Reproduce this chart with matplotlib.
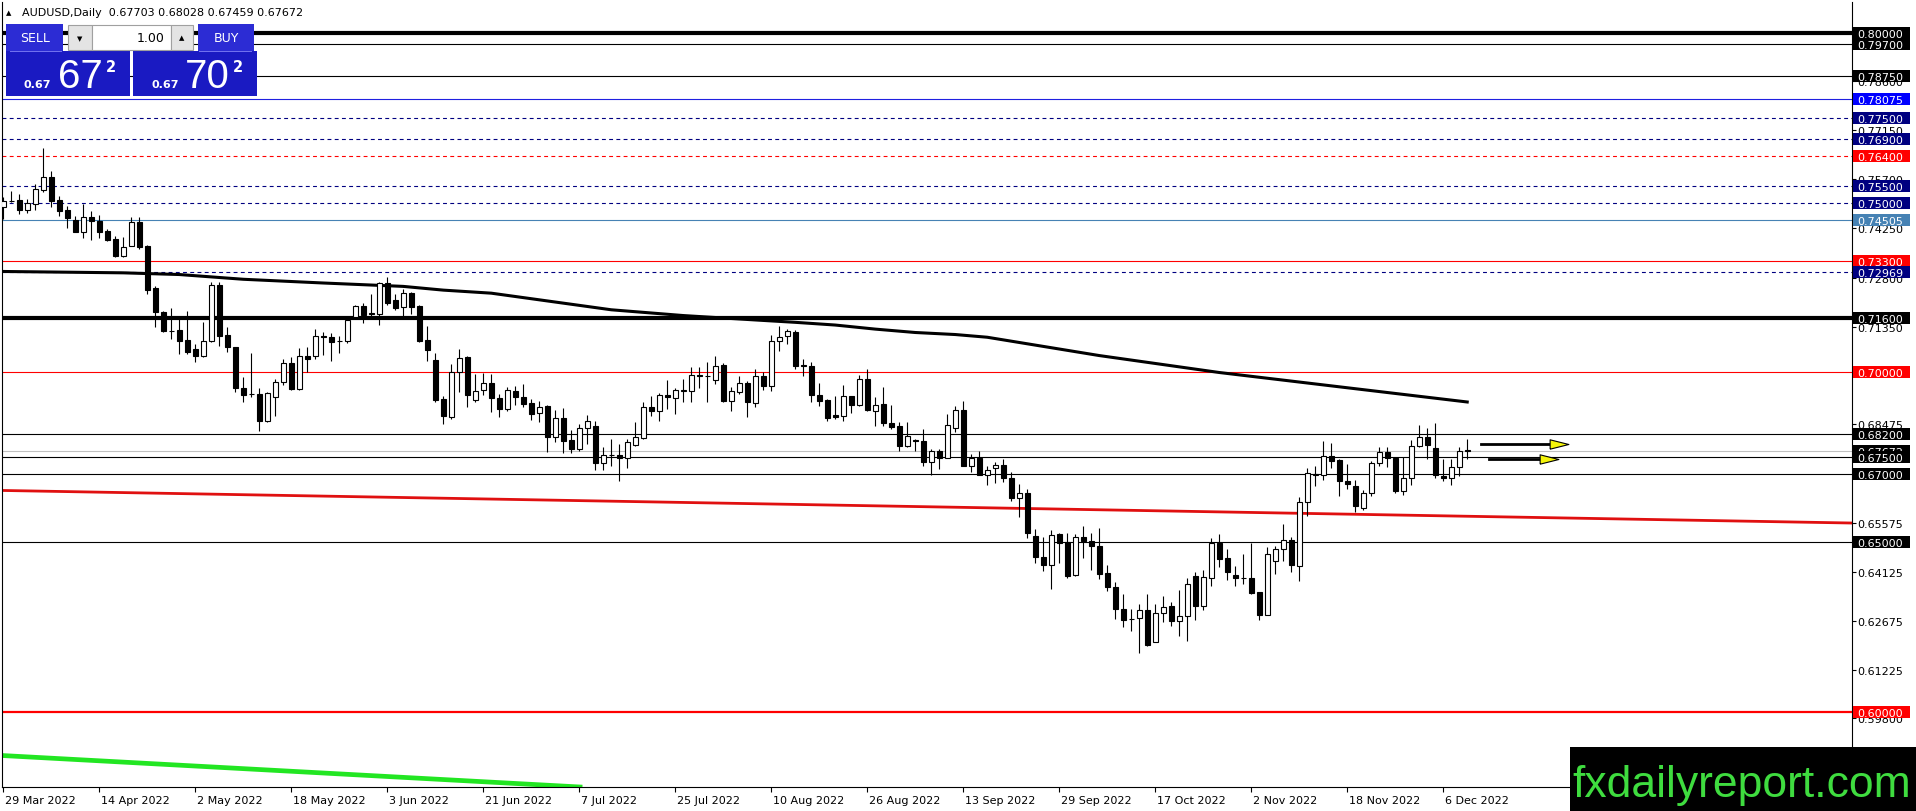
import numpy as np
import matplotlib.pyplot as plt
from matplotlib.patches import Rectangle
from matplotlib.transforms import ScaledTranslation

# daily candles, first bar = 29 Mar 2022
opens = [0.7487, 0.7507, 0.7509, 0.7480, 0.7497, 0.7539, 0.7576, 0.7509, 0.7479, 0.7450,
         0.7414, 0.7458, 0.7448, 0.7418, 0.7394, 0.7345, 0.7372, 0.7445, 0.7372, 0.7249,
         0.7178, 0.7123, 0.7124, 0.7096, 0.7070, 0.7048, 0.7094, 0.7258, 0.7111, 0.7075,
         0.6954, 0.6937, 0.6937, 0.6856, 0.6927, 0.6971, 0.7027, 0.6951, 0.7048, 0.7050,
         0.7109, 0.7104, 0.7094, 0.7094, 0.7163, 0.7195, 0.7175, 0.7174, 0.7263, 0.7214,
         0.7192, 0.7234, 0.7197, 0.7096, 0.7037, 0.6922, 0.6868, 0.7000, 0.7045, 0.6920,
         0.6947, 0.6969, 0.6925, 0.6892, 0.6945, 0.6927, 0.6909, 0.6880, 0.6902, 0.6811,
         0.6865, 0.6801, 0.6775, 0.6835, 0.6841, 0.6732, 0.6757, 0.6758, 0.6748, 0.6787,
         0.6807, 0.6897, 0.6885, 0.6934, 0.6924, 0.6946, 0.6944, 0.6992, 0.6989, 0.6979,
         0.7022, 0.6917, 0.6943, 0.6968, 0.6909, 0.6989, 0.6961, 0.7092, 0.7107, 0.7120,
         0.7022, 0.7018, 0.6934, 0.6919, 0.6875, 0.6873, 0.6930, 0.6905, 0.6981, 0.6887,
         0.6907, 0.6850, 0.6841, 0.6784, 0.6801, 0.6797, 0.6735, 0.6768, 0.6747, 0.6835,
         0.6890, 0.6725, 0.6747, 0.6699, 0.6717, 0.6727, 0.6688, 0.6629, 0.6645, 0.6517,
         0.6457, 0.6433, 0.6524, 0.6499, 0.6403, 0.6514, 0.6502, 0.6487, 0.6408, 0.6366,
         0.6301, 0.6272, 0.6275, 0.6298, 0.6206, 0.6291, 0.6310, 0.6268, 0.6281, 0.6399,
         0.6312, 0.6394, 0.6496, 0.6453, 0.6403, 0.6395, 0.6394, 0.6352, 0.6286, 0.6445,
         0.6479, 0.6505, 0.6430, 0.6617, 0.6699, 0.6699, 0.6753, 0.6742, 0.6679, 0.6664,
         0.6600, 0.6646, 0.6732, 0.6765, 0.6747, 0.6650, 0.6688, 0.6784, 0.6809, 0.6776,
         0.6696, 0.6689, 0.6722, 0.67703]
highs = [0.7517, 0.7536, 0.7527, 0.7512, 0.7556, 0.7661, 0.7593, 0.7522, 0.7492, 0.7463,
         0.7497, 0.7477, 0.7465, 0.7423, 0.7402, 0.7399, 0.7458, 0.7458, 0.7376, 0.7256,
         0.7180, 0.7189, 0.7158, 0.7181, 0.7084, 0.7150, 0.7266, 0.7266, 0.7133, 0.7075,
         0.6986, 0.7057, 0.6954, 0.6942, 0.6981, 0.7040, 0.7045, 0.7072, 0.7074, 0.7128,
         0.7119, 0.7116, 0.7109, 0.7168, 0.7199, 0.7204, 0.7232, 0.7266, 0.7283, 0.7232,
         0.7246, 0.7237, 0.7200, 0.7138, 0.7057, 0.6930, 0.7025, 0.7070, 0.7050, 0.6996,
         0.6998, 0.6996, 0.6937, 0.6958, 0.6961, 0.6966, 0.6922, 0.6917, 0.6905, 0.6888,
         0.6894, 0.6829, 0.6848, 0.6875, 0.6856, 0.6779, 0.6804, 0.6789, 0.6804, 0.6853,
         0.6912, 0.6932, 0.6939, 0.6978, 0.6955, 0.6981, 0.7015, 0.7015, 0.7032, 0.7050,
         0.7027, 0.6958, 0.6989, 0.6976, 0.7010, 0.7001, 0.7111, 0.7136, 0.7128, 0.7125,
         0.7040, 0.7030, 0.6968, 0.6922, 0.6932, 0.6963, 0.6932, 0.6993, 0.7010, 0.6927,
         0.6956, 0.6904, 0.6853, 0.6855, 0.6804, 0.6833, 0.6773, 0.6773, 0.6878, 0.6900,
         0.6917, 0.6760, 0.6769, 0.6723, 0.6735, 0.6745, 0.6707, 0.6671, 0.6656, 0.6538,
         0.6514, 0.6534, 0.6526, 0.6526, 0.6524, 0.6546, 0.6527, 0.6540, 0.6432, 0.6381,
         0.6347, 0.6301, 0.6317, 0.6347, 0.6317, 0.6340, 0.6324, 0.6357, 0.6393, 0.6411,
         0.6416, 0.6511, 0.6524, 0.6479, 0.6430, 0.6465, 0.6497, 0.6352, 0.6484, 0.6489,
         0.6553, 0.6514, 0.6632, 0.6717, 0.6723, 0.6799, 0.6792, 0.6745, 0.6730, 0.6684,
         0.6653, 0.6740, 0.6779, 0.6779, 0.6748, 0.6750, 0.6801, 0.6845, 0.6835, 0.6851,
         0.6745, 0.6745, 0.6779, 0.68028]
lows = [0.7453, 0.7502, 0.7468, 0.7471, 0.7480, 0.7532, 0.7487, 0.7463, 0.7425, 0.7414,
        0.7396, 0.7392, 0.7396, 0.7389, 0.7340, 0.7340, 0.7372, 0.7364, 0.7232, 0.7133,
        0.7119, 0.7099, 0.7055, 0.7055, 0.7030, 0.7045, 0.7089, 0.7079, 0.7060, 0.6942,
        0.6912, 0.6927, 0.6828, 0.6853, 0.6873, 0.6964, 0.6949, 0.6949, 0.7000, 0.7040,
        0.7053, 0.7035, 0.7057, 0.7087, 0.7160, 0.7146, 0.7163, 0.7141, 0.7199, 0.7185,
        0.7163, 0.7173, 0.7089, 0.7035, 0.6912, 0.6848, 0.6863, 0.6942, 0.6897, 0.6912,
        0.6934, 0.6883, 0.6868, 0.6885, 0.6905, 0.6899, 0.6860, 0.6853, 0.6765, 0.6794,
        0.6762, 0.6762, 0.6768, 0.6789, 0.6713, 0.6711, 0.6725, 0.6681, 0.6719, 0.6784,
        0.6804, 0.6873, 0.6858, 0.6892, 0.6878, 0.6912, 0.6912, 0.6955, 0.6912, 0.6966,
        0.6914, 0.6885, 0.6937, 0.6870, 0.6897, 0.6948, 0.6946, 0.7062, 0.7084, 0.7010,
        0.6991, 0.6912, 0.6900, 0.6858, 0.6863, 0.6856, 0.6880, 0.6900, 0.6887, 0.6841,
        0.6841, 0.6833, 0.6769, 0.6779, 0.6769, 0.6725, 0.6698, 0.6714, 0.6747, 0.6824,
        0.6725, 0.6706, 0.6697, 0.6669, 0.6673, 0.6676, 0.6622, 0.6573, 0.6511, 0.6437,
        0.6413, 0.6361, 0.6437, 0.6393, 0.6401, 0.6452, 0.6416, 0.6391, 0.6354, 0.6273,
        0.6248, 0.6236, 0.6172, 0.6194, 0.6204, 0.6265, 0.6251, 0.6224, 0.6209, 0.6271,
        0.6298, 0.6371, 0.6425, 0.6389, 0.6369, 0.6376, 0.6347, 0.6271, 0.6286, 0.6406,
        0.6445, 0.6411, 0.6386, 0.6578, 0.6664, 0.6684, 0.6717, 0.6635, 0.6656, 0.6588,
        0.6595, 0.6635, 0.6725, 0.6720, 0.6644, 0.6640, 0.6669, 0.6781, 0.6745, 0.6688,
        0.6681, 0.6669, 0.6696, 0.67459]
closes = [0.7507, 0.7506, 0.7480, 0.7499, 0.7541, 0.7576, 0.7507, 0.7477, 0.7456, 0.7414,
          0.7458, 0.7448, 0.7415, 0.7392, 0.7345, 0.7369, 0.7445, 0.7369, 0.7242, 0.7178,
          0.7121, 0.7122, 0.7094, 0.7060, 0.7048, 0.7094, 0.7258, 0.7109, 0.7075, 0.6953,
          0.6935, 0.6936, 0.6856, 0.6939, 0.6971, 0.7027, 0.6951, 0.7048, 0.7040, 0.7107,
          0.7104, 0.7091, 0.7093, 0.7155, 0.7195, 0.7171, 0.7174, 0.7263, 0.7205, 0.7190,
          0.7234, 0.7192, 0.7092, 0.7065, 0.6919, 0.6873, 0.7000, 0.7042, 0.6935, 0.6946,
          0.6969, 0.6924, 0.6892, 0.6949, 0.6927, 0.6907, 0.6878, 0.6899, 0.6811, 0.6865,
          0.6799, 0.6775, 0.6835, 0.6858, 0.6732, 0.6758, 0.6756, 0.6748, 0.6794, 0.6809,
          0.6897, 0.6885, 0.6934, 0.6927, 0.6947, 0.6947, 0.6993, 0.6991, 0.6990, 0.7018,
          0.6917, 0.6944, 0.6968, 0.6912, 0.6989, 0.6961, 0.7092, 0.7104, 0.7121, 0.7020,
          0.7018, 0.6935, 0.6917, 0.6866, 0.6870, 0.6930, 0.6905, 0.6981, 0.6888, 0.6904,
          0.6851, 0.6838, 0.6784, 0.6812, 0.6797, 0.6735, 0.6768, 0.6747, 0.6845, 0.6890,
          0.6725, 0.6747, 0.6698, 0.6713, 0.6727, 0.6688, 0.6629, 0.6644, 0.6526, 0.6455,
          0.6433, 0.6522, 0.6497, 0.6401, 0.6514, 0.6502, 0.6487, 0.6406, 0.6366, 0.6301,
          0.6271, 0.6273, 0.6298, 0.6197, 0.6291, 0.6309, 0.6268, 0.6281, 0.6376, 0.6312,
          0.6396, 0.6496, 0.6450, 0.6411, 0.6393, 0.6394, 0.6350, 0.6286, 0.6465, 0.6479,
          0.6505, 0.6432, 0.6617, 0.6703, 0.6700, 0.6753, 0.6740, 0.6679, 0.6671, 0.6605,
          0.6646, 0.6733, 0.6765, 0.6748, 0.6650, 0.6688, 0.6784, 0.6809, 0.6786, 0.6698,
          0.6689, 0.6722, 0.6768, 0.67672]

date_labels = ['29 Mar 2022', '14 Apr 2022', '2 May 2022', '18 May 2022', '3 Jun 2022',
               '21 Jun 2022', '7 Jul 2022', '25 Jul 2022', '10 Aug 2022', '26 Aug 2022',
               '13 Sep 2022', '29 Sep 2022', '17 Oct 2022', '2 Nov 2022', '18 Nov 2022',
               '6 Dec 2022']
bars_per_label = 12

# scale ticks (the ones hidden completely behind level labels are left out)
tick_prices = [0.59800, 0.61225, 0.62675, 0.64125, 0.65575, 0.68475,
               0.71350, 0.72800, 0.74250, 0.75700, 0.77150, 0.78600]

# horizontal levels
level_prices = [0.80000, 0.79700, 0.78750, 0.78075, 0.77500, 0.76900, 0.76400, 0.75500,
                0.75000, 0.74505, 0.73300, 0.72969, 0.71600, 0.70000, 0.68200, 0.67672,
                0.67500, 0.67000, 0.65000, 0.60000]
level_colors = ['black', 'black', 'black', '#2020e0', '#000080', '#000080', '#ff0000',
                '#000080', '#000080', '#4682b4', '#ff0000', '#000080', 'black', '#ff0000',
                'black', '#c0c0c0', 'black', 'black', 'black', '#ff0000']
level_dashed = [False, False, False, False, True, True, True, True, True, False, False,
                True, False, False, False, False, False, False, False, False]
level_widths = [3.0, 0.8, 0.8, 0.8, 0.8, 0.8, 0.8, 0.8, 0.8, 0.8, 0.8, 0.8, 3.0, 0.8,
                0.8, 0.8, 0.8, 0.8, 0.8, 1.6]
label_colors = ['black', 'black', 'black', '#0000ff', '#000080', '#000080', '#ff0000',
                '#000080', '#000080', '#4682b4', '#ff0000', '#000080', 'black', '#ff0000',
                'black', 'black', 'black', 'black', 'black', '#ff0000']

# moving average
ma_bars = [0, 15, 22, 30, 40, 50, 55, 61, 76, 85, 94, 99, 104, 109, 114, 119, 123,
           137, 152, 168, 183]
ma_values = [0.7298, 0.7294, 0.7289, 0.7275, 0.7264, 0.7254, 0.7243, 0.7234, 0.7185,
             0.7168, 0.7155, 0.7148, 0.7140, 0.7128, 0.7118, 0.7112, 0.7104, 0.7050,
             0.7000, 0.6955, 0.6913]

red_trend = [(0, 0.6652), (231, 0.6556)]
green_trend = [(0, 0.5870), (70, 0.5780)]

arrow_tail = [184.7, 185.7]
arrow_head = [194.5, 193.2]
arrow_price = [0.6790, 0.6744]

symbol = 'AUDUSD,Daily'
last_ohlc = '0.67703 0.68028 0.67459 0.67672'

W, H = 1916, 812
fig = plt.figure(figsize=(W / 100, H / 100), dpi=100)
fig.patch.set_facecolor('white')

# plot area in pixels
L, R, T, B = 2, 1852, 3, 788
ax = fig.add_axes([L / W, (H - B) / H, (R - L) / W, (B - T) / H])
ax.set_xlim(-0.16, 231.1)
ax.set_ylim(0.57773, 0.80929)
ax.set_facecolor('white')
for s in ['left', 'right', 'bottom']:
    ax.spines[s].set_linewidth(0.8)
ax.spines['top'].set_visible(False)

# levels
for p, col, dsh, lw in zip(level_prices, level_colors, level_dashed, level_widths):
    if dsh:
        ax.axhline(p, color=col, lw=lw, dashes=(3.5, 3), zorder=1)
    else:
        ax.axhline(p, color=col, lw=lw, zorder=1)

ax.axline(red_trend[0], red_trend[1], color='#e01010', lw=2.0, zorder=2)
ax.axline(green_trend[0], green_trend[1], color='#22e622', lw=3.4, zorder=2)
ax.plot(ma_bars, ma_values, color='black', lw=2.2, zorder=2)

# candles
o = np.array(opens)
h = np.array(highs)
lo = np.array(lows)
c = np.array(closes)
x = np.arange(len(o))
ax.vlines(x, lo, h, color='black', lw=0.8, zorder=3)
body = np.maximum(np.abs(c - o), 0.00001)
fill = np.where(c >= o, 'white', 'black')
ax.bar(x, body, bottom=np.minimum(o, c), width=0.62, color=fill,
       edgecolor='black', linewidth=0.8, zorder=4)

# arrows
for xt, xh, p in zip(arrow_tail, arrow_head, arrow_price):
    ax.plot([xt, xh], [p, p], color='black', lw=2.0, zorder=5)
    ax.plot([xh], [p], marker=[(-1, -0.5), (1, 0), (-1, 0.5), (-1, -0.5)],
            markersize=13.5, markerfacecolor='#f4f40a', markeredgecolor='black',
            markeredgewidth=0.8, zorder=6)

# axes ticks
ax.yaxis.tick_right()
ax.set_yticks(tick_prices)
ax.set_yticklabels(['%.5f' % v for v in tick_prices])
ax.tick_params(axis='y', direction='out', length=3, width=0.8, pad=0.8,
               labelsize=8, colors='black')
ax.set_xticks(np.arange(len(date_labels)) * bars_per_label)
ax.set_xticklabels(date_labels, ha='left')
ax.tick_params(axis='x', direction='out', length=3.5, width=0.8, pad=2.5, labelsize=8)
shift = ScaledTranslation(0.02, 0, fig.dpi_scale_trans)
for lab in ax.get_xticklabels():
    lab.set_transform(lab.get_transform() + shift)


def ytop(price):
    return H - ax.transData.transform((0, price))[1]


def rect(x0, y0, x1, y1, fc, ec='none', lw=0, z=10):
    fig.add_artist(Rectangle((x0 / W, 1 - y1 / H), (x1 - x0) / W, (y1 - y0) / H,
                             transform=fig.transFigure, facecolor=fc, edgecolor=ec,
                             linewidth=lw, zorder=z))


def ftext(px, py, s, z=11, **kw):
    fig.text(px / W, 1 - py / H, s, zorder=z, **kw)


# price label boxes on the right scale
for i, (p, col) in enumerate(zip(level_prices, label_colors)):
    yc = ytop(p)
    rect(1853, yc - 6, 1910, yc + 6, col, z=10 + i * 0.01)
    ftext(1857, yc, '%.5f' % p, z=10.005 + i * 0.01, color='white', fontsize=8,
          va='center_baseline', ha='left')

# header
ftext(6, 13, '\u25b2', fontsize=5, va='center', ha='left')
ftext(22, 13, symbol + '  ' + last_ohlc, fontsize=8, va='center', ha='left')

# one click trading panel
rect(6, 25, 63, 52, '#2c2cd4')
rect(6, 52, 130, 97, '#1a1ac2')
rect(198, 25, 254, 52, '#2c2cd4')
rect(133, 52, 257, 97, '#1a1ac2')
rect(10, 51.5, 62, 52.5, '#7070ee', z=10.5)
rect(199, 51.5, 252, 52.5, '#7070ee', z=10.5)
rect(68, 26, 92, 51, '#e4e4e4', ec='#a0a0a0', lw=0.8)
rect(92, 26, 171, 51, 'white', ec='#a0a0a0', lw=0.8)
rect(171, 26, 193, 51, '#e4e4e4', ec='#a0a0a0', lw=0.8)
ftext(80, 39, '\u25bc', fontsize=5, va='center', ha='center')
ftext(182, 38, '\u25b2', fontsize=5, va='center', ha='center')
ftext(165, 38, '1.00', fontsize=9, va='center', ha='right', color='black')
ftext(35, 38, 'SELL', fontsize=9, va='center', ha='center', color='white')
ftext(226, 38, 'BUY', fontsize=9, va='center', ha='center', color='white')
for x0, big in [(24, '67'), (151, '70')]:
    ftext(x0, 88, '0.67', fontsize=8, fontweight='bold', color='white', va='baseline')
    ftext(x0 + 34, 88, big, fontsize=29, family='Liberation Sans', color='white',
          va='baseline')
    ftext(x0 + 82, 72, '2', fontsize=10.5, fontweight='bold', color='white',
          va='baseline')

# watermark
rect(1570, 748, 1916, 812, 'black', z=20)
ftext(1911, 797, 'fxdailyreport.com', z=21, fontsize=32, family='Liberation Sans',
      color='#3fdc3f', ha='right', va='baseline')

fig.savefig('out.png', dpi=100)
